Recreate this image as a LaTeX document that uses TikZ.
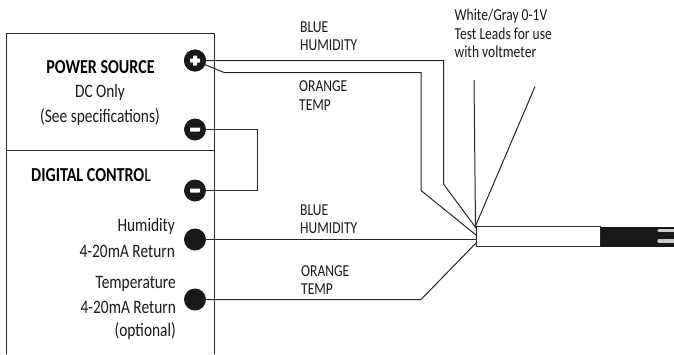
\documentclass[tikz,border=0pt]{standalone}
\usepackage{fontspec}
\setmainfont[FakeStretch=0.81]{Carlito}
\usetikzlibrary{calc}
\tikzset{
  wire/.style={draw=black!85,line width=1pt},
  boxline/.style={draw=black!85,line width=1.2pt},
  term/.style={circle,fill=black!90,minimum size=22pt,inner sep=0pt},
  txt/.style={font=\fontsize{19}{22}\selectfont,inner sep=0pt,text=black!90},
  txtr/.style={txt,anchor=east},
  head/.style={font=\fontsize{19.8}{22}\selectfont\bfseries,inner sep=0pt,text=black},
  lab/.style={font=\fontsize{16.7}{19}\selectfont,inner sep=0pt,anchor=west,text=black!90}
}
\begin{document}
\begin{tikzpicture}[x=1pt,y=-1pt]
\useasboundingbox (0,0) rectangle (674,354);
% enclosure
\coordinate (bl) at (6.5,354);
\coordinate (tl) at (6.5,33.5);
\coordinate (tr) at (214.5,33.5);
\coordinate (br) at (214.5,354);
\coordinate (dl) at (6.5,150.5);
\coordinate (dr) at (214.5,150.5);
\draw[boxline] (bl) -- (tl) -- (tr) -- (br);
\draw[boxline] (dl) -- (dr);
% sheath
\fill[black!90] (600,226.5) rectangle (674,246.5);
\draw[wire,fill=white] (476.5,226.5) rectangle (600,246.5);
\draw[white!80!black,line width=3.4pt,line cap=round] (659,230.5) -- (676,230.5);
\draw[white!80!black,line width=3.4pt,line cap=round] (659,241) -- (676,241);
\coordinate (sa) at (475.5,226);
\coordinate (sb) at (476,228);
\coordinate (sc) at (476,235);
\coordinate (sd) at (476,239.5);
\coordinate (se) at (476,243);
% terminals
\node[term] (plus) at (195,60.5) {};
\node[term] (minusa) at (195,129.5) {};
\node[term] (minusb) at (195,190.5) {};
\node[term] (hum) at (195,239.5) {};
\node[term] (temp) at (195,299.5) {};
% wires
\coordinate (b1) at (443.5,60.5);
\coordinate (b2) at (443.5,184);
\coordinate (o0) at (224,72.5);
\coordinate (o1) at (421,72.5);
\coordinate (o2) at (421,190.5);
\coordinate (t1) at (421,299.5);
\coordinate (la) at (474,80);
\coordinate (lb) at (535,86.5);
\coordinate (m1) at (257.5,129.5);
\coordinate (m2) at (257.5,190.5);
\draw[wire] (plus.center) -- (b1) -- (b2) -- (sb);
\draw[wire] (plus.center) -- (o0) -- (o1) -- (o2) -- (sc);
\draw[wire] (la) -- (sa);
\draw[wire] (lb) -- (sa);
\draw[wire] (minusa.east) -- (m1) -- (m2) -- (minusb.east);
\draw[wire] (hum.east) -- (sd);
\draw[wire] (temp.east) -- (t1) -- (se);
% terminal disc over wire start, then signs
\fill[black!90] (plus) circle (11);
\fill[white,rounded corners=0.6pt] (190,58.5) rectangle (200,62.5);
\fill[white,rounded corners=0.6pt] (193,55.5) rectangle (197,65.5);
\fill[white,rounded corners=0.6pt] (190,127.5) rectangle (200,131.5);
\fill[white,rounded corners=0.6pt] (190,188.5) rectangle (200,192.5);
% text
\node[head] (t1a) at (100.5,67) {POWER SOURCE};
\node[txt] (t1b) at (100,92.5) {DC Only};
\node[txt] (t1c) at (100,117.5) {(See specifications)};
\node[head,anchor=west] (t2) at (31,175) {DIGITAL CONTRO\textmd{L}};
\node[txtr] (h1) at (175,226) {Humidity};
\node[txtr] (h2) at (175,251) {4-20mA Return};
\node[txtr] (c1) at (176,284) {Temperature};
\node[txtr] (c2) at (176,307) {4-20mA Return};
\node[txtr] (c3) at (176,331) {(optional)};
\node[lab] (l1) at (300,27) {BLUE};
\node[lab] (l2) at (300,45) {HUMIDITY};
\node[lab] (l3) at (299,86) {ORANGE};
\node[lab] (l4) at (299,105) {TEMP};
\node[lab] (l5) at (300,210) {BLUE};
\node[lab] (l6) at (300,228) {HUMIDITY};
\node[lab] (l7) at (301,271) {ORANGE};
\node[lab] (l8) at (301,289) {TEMP};
\node[lab] (w1) at (454.5,16) {White/Gray 0-1V};
\node[lab] (w2) at (454.5,34) {Test Leads for use};
\node[lab] (w3) at (454.5,52) {with voltmeter};
\end{tikzpicture}
\end{document}
